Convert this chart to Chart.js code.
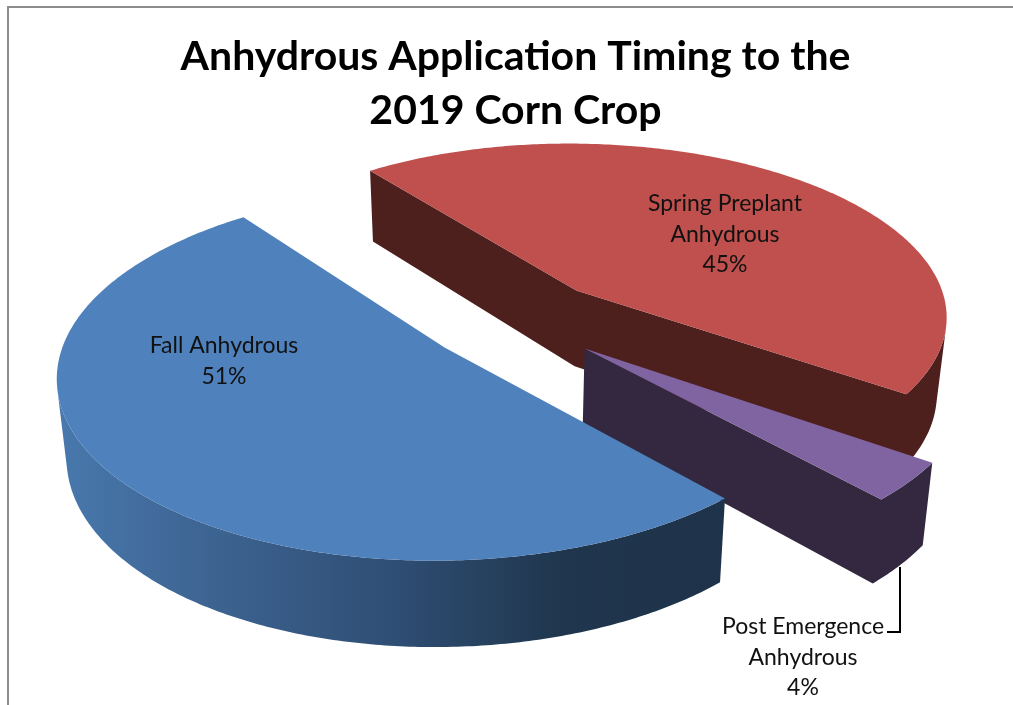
<!DOCTYPE html>
<html>
<head>
<meta charset="utf-8">
<script src="https://cdn.jsdelivr.net/npm/chart.js@4/dist/chart.umd.js"></script>
<style>html,body{margin:0;padding:0;background:#fff}canvas{display:block}</style>
</head>
<body>
<canvas id="c" width="1013" height="705"></canvas>
<script>
// ---- data ----
const titleLines = ['Anhydrous Application Timing to the', '2019 Corn Crop'];
const categories = ['Fall Anhydrous', 'Spring Preplant Anhydrous', 'Post Emergence Anhydrous'];
const categoryLines = [['Fall Anhydrous'], ['Spring Preplant', 'Anhydrous'], ['Post Emergence', 'Anhydrous']];
const shares = [51.4, 45.1, 3.5];

// ---- styling ----
const topColors = ['#4F81BD', '#C0504D', '#8064A2'];
const wallColors = [null, '#4D1F1D', '#33283F'];
const blueWallStops = [[60, '#4878AD'], [200, '#3E6593'], [400, '#2E4D73'], [560, '#20364E'], [723, '#1E3349']];
const labelAnchors = [[224, 346], [725, 204], [803, 627]];
const labelStep = 30.5;
const paintOrder = [1, 2, 0];
const view = {f: 374.5, g: 175, w: 0.139};
const depth = {base: 64, perY: 0.04, shearX: 0.022, shearRef: 500};

const {PieController, ArcElement, Title} = Chart;

class Arc3D extends ArcElement {
  static id = 'arc3d';
  project(X, Y) {
    const d = 1 - view.w * Y;
    return [this.x + view.f * X / d, this.y + view.g * Y / d];
  }
  lower(p) {
    return [p[0] - (p[0] - depth.shearRef) * depth.shearX, p[1] + depth.base + depth.perY * p[1]];
  }
  draw(ctx) {
    const R = this.outerRadius, off = this.options.offset || 0;
    const a0 = this.startAngle, a1 = this.endAngle, mid = (a0 + a1) / 2;
    const oX = Math.cos(mid) * off / R, oY = Math.sin(mid) * off / R;
    const apex = this.project(oX, oY);
    const rim = [];
    const n = Math.max(4, Math.ceil((a1 - a0) * 90));
    for (let i = 0; i <= n; i++) {
      const t = a0 + (a1 - a0) * i / n;
      rim.push(this.project(oX + Math.cos(t), oY + Math.sin(t)));
    }
    let fill = this.wallColor;
    if (!fill) {
      const x0 = blueWallStops[0][0], x1 = blueWallStops[blueWallStops.length - 1][0];
      fill = ctx.createLinearGradient(x0, 0, x1, 0);
      blueWallStops.forEach(s => fill.addColorStop((s[0] - x0) / (x1 - x0), s[1]));
    }
    // every boundary edge of the slice's top face sweeps a wall; only front-facing ones are painted
    const boundary = [apex].concat(rim, [apex]);
    ctx.beginPath();
    for (let i = 0; i < boundary.length - 1; i++) {
      const q = [boundary[i], boundary[i + 1], this.lower(boundary[i + 1]), this.lower(boundary[i])];
      let area = 0;
      q.forEach((p, k) => {
        const r = q[(k + 1) % 4];
        area += p[0] * r[1] - r[0] * p[1];
      });
      if (area < 0) {
        ctx.moveTo(q[0][0], q[0][1]);
        ctx.lineTo(q[1][0], q[1][1]);
        ctx.lineTo(q[2][0], q[2][1]);
        ctx.lineTo(q[3][0], q[3][1]);
        ctx.closePath();
      }
    }
    ctx.fillStyle = fill;
    ctx.fill();
    ctx.beginPath();
    boundary.forEach((p, i) => i ? ctx.lineTo(p[0], p[1]) : ctx.moveTo(p[0], p[1]));
    ctx.closePath();
    ctx.fillStyle = this.options.backgroundColor;
    ctx.fill();
  }
}

class Pie3D extends PieController {
  static id = 'pie3d';
  static defaults = {dataElementType: 'arc3d'};
  draw() {
    const ctx = this.chart.ctx, els = this._cachedMeta.data;
    paintOrder.forEach(i => {
      els[i].wallColor = wallColors[i];
      els[i].draw(ctx);
    });
  }
}
Chart.register(ArcElement, Arc3D, PieController, Pie3D, Title);

const framePlugin = {
  id: 'frame',
  beforeDraw(chart) {
    const c = chart.ctx;
    c.save();
    c.strokeStyle = '#8C8C8C';
    c.lineWidth = 2;
    c.beginPath();
    c.moveTo(8, 705); c.lineTo(8, 7); c.lineTo(1013, 7);
    c.stroke();
    c.restore();
  }
};

const labelPlugin = {
  id: 'pieLabels',
  afterDatasetsDraw(chart) {
    const c = chart.ctx;
    const total = shares.reduce((a, b) => a + b, 0);
    c.save();
    c.strokeStyle = '#000';
    c.lineWidth = 2;
    c.beginPath();
    c.moveTo(887, 632); c.lineTo(900, 632); c.lineTo(900, 567);
    c.stroke();
    c.fillStyle = '#111';
    c.font = '400 23px Lato';
    c.textAlign = 'center';
    c.textBaseline = 'middle';
    categoryLines.forEach((lines, i) => {
      const all = lines.concat([Math.round(shares[i] / total * 100) + '%']);
      all.forEach((t, j) => c.fillText(t, labelAnchors[i][0], labelAnchors[i][1] + j * labelStep));
    });
    c.restore();
  }
};

new Chart(document.getElementById('c'), {
  type: 'pie3d',
  data: {
    labels: categories,
    datasets: [{
      data: shares,
      backgroundColor: topColors,
      borderWidth: 0,
      offset: 39
    }]
  },
  options: {
    responsive: false,
    animation: false,
    rotation: 137.6,
    layout: {padding: {left: 18, top: 0, right: 0, bottom: 203}},
    events: [],
    plugins: {
      title: {
        display: true,
        text: titleLines,
        color: '#000',
        font: {family: 'Lato', weight: 'bold', size: 41, lineHeight: 1.32},
        padding: {top: 30, bottom: 0}
      },
      legend: {display: false},
      tooltip: {enabled: false}
    }
  },
  plugins: [framePlugin, labelPlugin]
});
</script>
</body>
</html>
